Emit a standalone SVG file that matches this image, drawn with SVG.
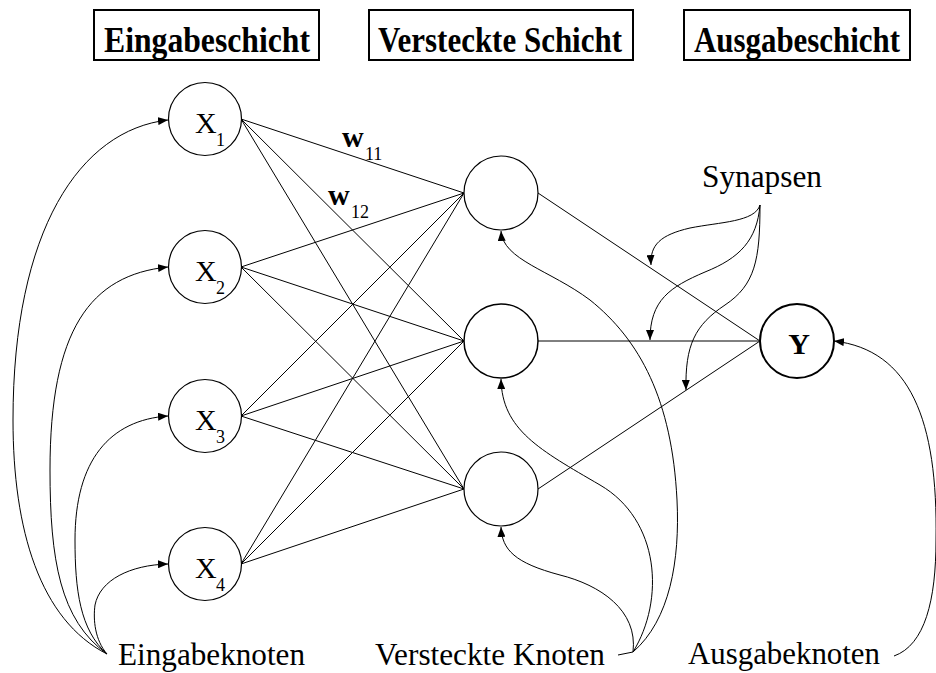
<svg xmlns="http://www.w3.org/2000/svg" width="936" height="673" viewBox="0 0 936 673">
<style>
.node{fill:#fff;stroke:#000;stroke-width:1.2}
.hdr{fill:#fff;stroke:#000;stroke-width:2}
.ht{font-family:"Liberation Serif",serif;font-weight:bold;font-size:35px;fill:#000}
.lbl{font-family:"Liberation Serif",serif;font-size:32px;fill:#000}
.nt{font-family:"Liberation Serif",serif;font-size:30px;fill:#000}
.sub{font-family:"Liberation Serif",serif;font-size:18px;fill:#000}
.e{fill:none;stroke:#000;stroke-width:1}
.c{fill:none;stroke:#000;stroke-width:1;marker-end:url(#arr)}
</style>
<defs>
<marker id="arr" viewBox="0 0 10 8" markerWidth="10" markerHeight="8" refX="10" refY="4" orient="auto" markerUnits="userSpaceOnUse">
<path d="M0,0 L10,4 L0,8 z" fill="#000"/>
</marker>
</defs>
<g id="headers">
<g id="h-eingabe"><rect class="hdr" x="94" y="10" width="225" height="50"/><text class="ht" x="104" y="52" textLength="206" lengthAdjust="spacingAndGlyphs">Eingabeschicht</text></g>
<g id="h-versteckt"><rect class="hdr" x="369" y="10" width="264" height="50"/><text class="ht" x="378" y="52" textLength="244" lengthAdjust="spacingAndGlyphs">Versteckte Schicht</text></g>
<g id="h-ausgabe"><rect class="hdr" x="684" y="10" width="226" height="50"/><text class="ht" x="694" y="52" textLength="206" lengthAdjust="spacingAndGlyphs">Ausgabeschicht</text></g>
</g>
<g id="connectors">
<line class="e" x1="241" y1="119" x2="464" y2="193"/>
<line class="e" x1="241" y1="119" x2="464" y2="341"/>
<line class="e" x1="241" y1="119" x2="464" y2="489"/>
<line class="e" x1="241" y1="267" x2="464" y2="193"/>
<line class="e" x1="241" y1="267" x2="464" y2="341"/>
<line class="e" x1="241" y1="267" x2="464" y2="489"/>
<line class="e" x1="241" y1="416" x2="464" y2="193"/>
<line class="e" x1="241" y1="416" x2="464" y2="341"/>
<line class="e" x1="241" y1="416" x2="464" y2="489"/>
<line class="e" x1="241" y1="564" x2="464" y2="193"/>
<line class="e" x1="241" y1="564" x2="464" y2="341"/>
<line class="e" x1="241" y1="564" x2="464" y2="489"/>
<line class="e" x1="538" y1="193" x2="760" y2="341"/>
<line class="e" x1="538" y1="341" x2="760" y2="341"/>
<line class="e" x1="538" y1="489" x2="760" y2="341"/>
<path class="c" d="M107,654 C40,620 13,530 13,420 C13,230 80,130 168,120"/>
<path class="c" d="M107,654 C60,620 50,560 50,470 C50,330 90,275 168,267"/>
<path class="c" d="M107,654 C80,630 75,590 75,540 C75,460 110,420 168,416"/>
<path class="c" d="M107,654 C95,640 93,620 95,605 C100,580 130,565 168,564"/>
<path class="e" d="M618,655 L633,652"/>
<path class="c" d="M633,652 C638,610 600,585 560,575 C515,563 502,550 501,527"/>
<path class="c" d="M633,652 C665,600 660,520 600,485 C540,450 502,430 501,379"/>
<path class="c" d="M633,652 C670,620 680,560 677,500 C672,400 640,340 590,300 C550,270 503,260 501,231"/>
<path class="c" d="M894,656 C925,645 936,600 936,540 C938,420 910,350 834,341"/>
<path class="c" d="M760,205 C755,222 720,222 690,228 C660,235 650,245 651,265"/>
<path class="c" d="M760,205 C757,240 740,258 705,272 C670,287 650,300 650,340"/>
<path class="c" d="M760,205 C760,260 755,285 725,305 C695,325 685,345 686,390"/>
</g>
<g id="x1"><circle class="node" cx="205" cy="119" r="36.5"/><text class="nt" x="195" y="133">X</text><text class="sub" x="216" y="146">1</text></g>
<g id="x2"><circle class="node" cx="205" cy="267" r="36.5"/><text class="nt" x="195" y="281">X</text><text class="sub" x="216" y="294">2</text></g>
<g id="x3"><circle class="node" cx="205" cy="416" r="36.5"/><text class="nt" x="195" y="430">X</text><text class="sub" x="216" y="443">3</text></g>
<g id="x4"><circle class="node" cx="205" cy="564" r="36.5"/><text class="nt" x="195" y="578">X</text><text class="sub" x="216" y="591">4</text></g>
<g id="h1"><circle class="node" cx="501" cy="193" r="37"/></g>
<g id="h2"><circle class="node" cx="501" cy="341" r="37" style="stroke-width:1.5"/></g>
<g id="h3"><circle class="node" cx="501" cy="489" r="37"/></g>
<g id="y"><circle class="node" cx="797" cy="341" r="37" style="stroke-width:2"/><text class="nt" x="799" y="354" text-anchor="middle" font-weight="bold">Y</text></g>
<g id="w11"><text class="nt" x="342" y="147" font-weight="bold">w</text><text class="sub" x="365" y="160">11</text></g>
<g id="w12"><text class="nt" x="328" y="205" font-weight="bold">w</text><text class="sub" x="351" y="218">12</text></g>
<g id="lbl-synapsen"><text class="lbl" x="702" y="187" textLength="120" lengthAdjust="spacingAndGlyphs">Synapsen</text></g>
<g id="lbl-eingabe"><text class="lbl" x="118" y="665" textLength="187" lengthAdjust="spacingAndGlyphs">Eingabeknoten</text></g>
<g id="lbl-versteckt"><text class="lbl" x="375" y="665" textLength="230" lengthAdjust="spacingAndGlyphs">Versteckte Knoten</text></g>
<g id="lbl-ausgabe"><text class="lbl" x="688" y="664" textLength="192" lengthAdjust="spacingAndGlyphs">Ausgabeknoten</text></g>
</svg>
